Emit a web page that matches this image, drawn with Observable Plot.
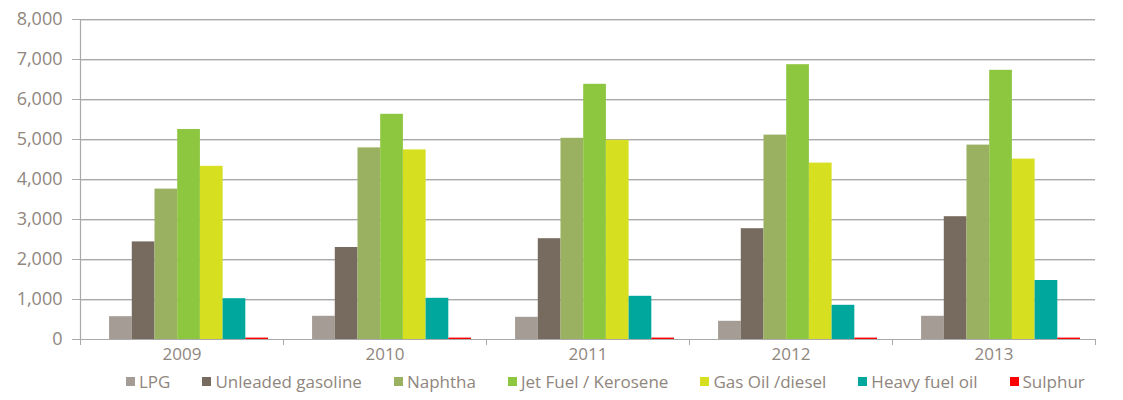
<!DOCTYPE html>
<html>
<head>
<meta charset="utf-8">
<script src="https://cdn.jsdelivr.net/npm/d3@7"></script>
<script src="https://cdn.jsdelivr.net/npm/@observablehq/plot@0.6"></script>
<style>
  body { margin: 0; background: #fff; }
  #chart { position: relative; width: 1123px; height: 368px; }
  #chart > svg { position: absolute; left: 0; top: 0; }
  #legend { width: 1123px; height: 28px; padding-left: 126px; box-sizing: border-box; overflow: visible; }
  .leg-swatches { min-height: 27px !important; flex-wrap: nowrap !important; width: max-content; }
  .leg-swatch { margin-right: 32px !important; flex-shrink: 0 !important; white-space: nowrap !important; }
  .leg-swatch > svg { margin-right: 4px !important; flex-shrink: 0; }
</style>
</head>
<body>
<div id="chart"></div>
<div id="legend"></div>
<script>
const years = ["2009", "2010", "2011", "2012", "2013"];
const series = ["LPG", "Unleaded gasoline", "Naphtha", "Jet Fuel / Kerosene", "Gas Oil /diesel", "Heavy fuel oil", "Sulphur"];
const seriesColors = ["#a49c95", "#776b5f", "#9bb162", "#8dc63f", "#d7df21", "#00a79d", "#ff0000"];

const lpg = [570, 580, 555, 455, 580];
const unleadedGasoline = [2440, 2300, 2520, 2770, 3070];
const naphtha = [3760, 4790, 5030, 5110, 4860];
const jetFuel = [5250, 5630, 6380, 6870, 6730];
const gasOil = [4330, 4740, 4980, 4410, 4510];
const heavyFuelOil = [1020, 1030, 1080, 855, 1475];
const sulphur = [35, 35, 35, 35, 35];

const yTicks = [0, 1000, 2000, 3000, 4000, 5000, 6000, 7000, 8000];

const valuesBySeries = [lpg, unleadedGasoline, naphtha, jetFuel, gasOil, heavyFuelOil, sulphur];
const table = [];
series.forEach((s, si) => years.forEach((y, yi) => table.push({year: y, series: s, value: valuesBySeries[si][yi]})));

const W = 1123, H = 368;
const margins = {marginTop: 19, marginBottom: 29, marginLeft: 80, marginRight: 28};
const textColor = "#8f867e";
const font = "'Open Sans', sans-serif";
const gridColor = "#a9a9a9";

// Background layer: grid, y axis, baseline and category boundary ticks
const base = Plot.plot({
  width: W, height: H, ...margins,
  style: {fontFamily: font, fontSize: "18px", background: "transparent", overflow: "visible"},
  x: {type: "linear", domain: [0, years.length], axis: null},
  y: {domain: [0, 8000], axis: null},
  marks: [
    Plot.ruleY(yTicks.slice(1), {stroke: "#dcdcdc", strokeWidth: 1, dy: 1}),
    Plot.ruleY(yTicks, {stroke: gridColor, strokeWidth: 1.2}),
    Plot.ruleX([0], {y1: 0, y2: 8000, stroke: gridColor, strokeWidth: 1.2}),
    Plot.axisY({ticks: yTicks, tickSize: 8, tickPadding: 10, tickFormat: d3.format(","),
      stroke: gridColor, color: textColor, fontSize: 18}),
    Plot.axisX({ticks: d3.range(years.length + 1), tickSize: 6, tickFormat: () => "",
      stroke: gridColor})
  ]
});

// Foreground layer: grouped bars and year labels
const bars = Plot.plot({
  width: W, height: H, ...margins,
  style: {fontFamily: font, fontSize: "17px", background: "transparent", overflow: "visible"},
  fx: {domain: years, paddingInner: 0, paddingOuter: 0, round: false, label: null},
  x: {domain: series, paddingInner: 0, paddingOuter: 0.97, align: 0.66, round: false, axis: null},
  y: {domain: [0, 8000], axis: null},
  color: {domain: series, range: seriesColors},
  marks: [
    Plot.barY(table, {fx: "year", x: "series", y: "value", fill: "series"}),
    Plot.axisFx({anchor: "bottom", tickSize: 0, tickPadding: 8, color: textColor, fontSize: 17, label: null})
  ]
});

document.getElementById("chart").append(base, bars);

const legend = Plot.legend({
  color: {domain: series, range: seriesColors},
  swatchSize: 9,
  className: "leg",
  style: {fontFamily: font, fontSize: "17px", color: textColor}
});
document.getElementById("legend").append(legend);
</script>
</body>
</html>
